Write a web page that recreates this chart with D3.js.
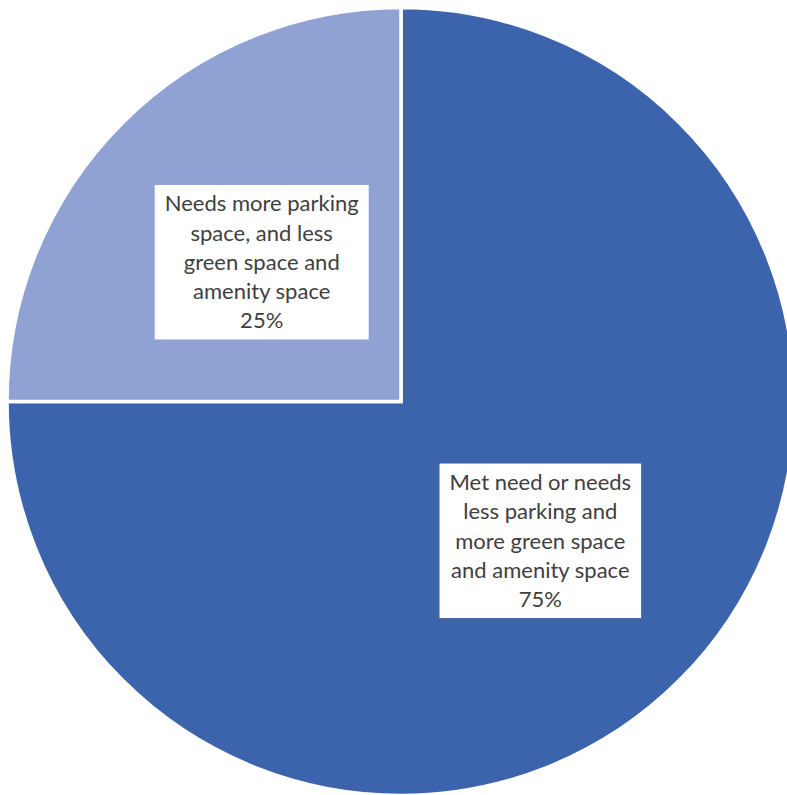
<!DOCTYPE html>
<html>
<head>
<meta charset="utf-8">
<script src="https://cdn.jsdelivr.net/npm/d3@7"></script>
<style>
  html, body { margin: 0; padding: 0; background: #ffffff; }
  svg { display: block; }
</style>
</head>
<body>
<svg id="chart" width="787" height="795"></svg>
<script>
// Survey result: parking vs. green/amenity space
const categories = [
  "Met need or needs less parking and more green space and amenity space",
  "Needs more parking space, and less green space and amenity space"
];
const values = [75, 25];
const labelLines = [
  ["Met need or needs", "less parking and", "more green space", "and amenity space", "75%"],
  ["Needs more parking", "space, and less", "green space and", "amenity space", "25%"]
];
const colors = ["#3c64ad", "#8fa2d3"];

const svg = d3.select("#chart");
const cx = 401, cy = 401.5, radius = 394;

const data = categories.map((c, i) => ({ category: c, value: values[i], lines: labelLines[i], color: colors[i] }));

const pie = d3.pie().sort(null).value(d => d.value);
const arc = d3.arc().innerRadius(0).outerRadius(radius);

const g = svg.append("g").attr("transform", `translate(${cx},${cy})`);

const arcs = pie(data);

g.selectAll("path.slice")
  .data(arcs)
  .join("path")
  .attr("class", "slice")
  .attr("d", arc)
  .attr("fill", d => d.data.color)
  .attr("stroke", "#ffffff")
  .attr("stroke-width", 3.5)
  .attr("stroke-linejoin", "miter");

// Data labels in white boxes at each slice's centroid
const lineH = 29.3;
const padX = 10, padY = 4;

const labels = g.selectAll("g.label")
  .data(arcs)
  .join("g")
  .attr("class", "label")
  .attr("transform", d => {
    const [x, y] = arc.centroid(d);
    return `translate(${x},${y})`;
  });

labels.each(function(d) {
  const lg = d3.select(this);
  const rect = lg.append("rect").attr("fill", "#ffffff");
  const n = d.data.lines.length;
  const text = lg.append("text")
    .attr("text-anchor", "middle")
    .attr("font-family", "Lato, 'Open Sans', sans-serif")
    .attr("font-size", 22)
    .attr("fill", "#404040");
  d.data.lines.forEach((line, i) => {
    text.append("tspan")
      .attr("x", 0)
      .attr("y", (i - (n - 1) / 2) * lineH)
      .attr("dy", "0.35em")
      .text(line);
  });
  let maxW = 0;
  text.selectAll("tspan").each(function() {
    maxW = Math.max(maxW, this.getComputedTextLength());
  });
  const h = n * lineH + 2 * padY;
  const w = maxW + 2 * padX;
  rect.attr("x", -w / 2).attr("y", -h / 2).attr("width", w).attr("height", h);
});
</script>
</body>
</html>
